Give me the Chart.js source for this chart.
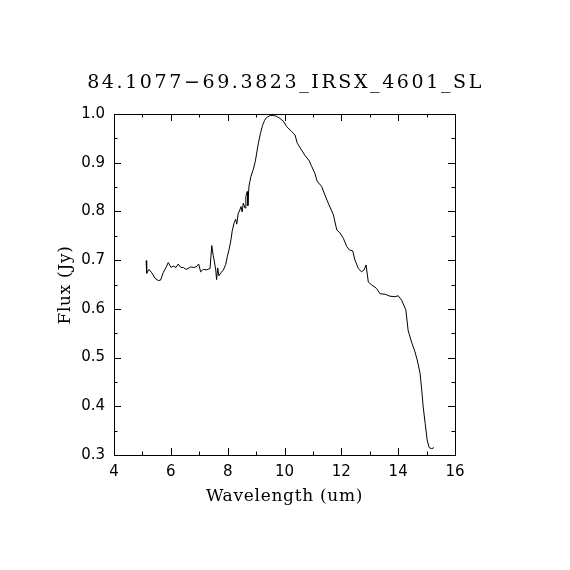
<!DOCTYPE html>
<html>
<head>
<meta charset="utf-8">
<script src="https://cdn.jsdelivr.net/npm/chart.js@4/dist/chart.umd.min.js"></script>
<style>
  html, body { margin: 0; padding: 0; background: #fff; }
  canvas { display: block; }
</style>
</head>
<body>
<canvas id="grafico" width="570" height="570"></canvas>
<script>
// dados (comprimento de onda em um, fluxo em Jy)
const titulo = '84.1077\u221269.3823_IRSX_4601_SL';
const wavelength = [
  5.13, 5.15, 5.23, 5.33, 5.44, 5.56, 5.64, 5.73, 5.83, 5.91,
  6.01, 6.09, 6.18, 6.26, 6.35, 6.44, 6.53, 6.61, 6.70, 6.79,
  6.89, 6.98, 7.05, 7.14, 7.26, 7.38, 7.44, 7.49, 7.53, 7.58,
  7.61, 7.65, 7.69, 7.76, 7.85, 7.93, 7.99, 8.05, 8.12, 8.16,
  8.23, 8.28, 8.32, 8.37, 8.43, 8.47, 8.51, 8.55, 8.61, 8.64,
  8.69, 8.71, 8.75, 8.82, 8.90, 8.97, 9.08, 9.16, 9.23, 9.30,
  9.37, 9.50, 9.61, 9.73, 9.84, 9.96, 10.08, 10.25, 10.37, 10.45,
  10.60, 10.72, 10.87, 10.96, 11.07, 11.15, 11.31, 11.42, 11.54, 11.72,
  11.84, 11.95, 12.07, 12.19, 12.28, 12.40, 12.48, 12.60, 12.71, 12.80,
  12.87, 12.95, 13.07, 13.24, 13.36, 13.54, 13.71, 13.89, 14.00, 14.12,
  14.27, 14.35, 14.47, 14.59, 14.67, 14.77, 14.83, 14.88, 14.95, 15.02,
  15.09, 15.18, 15.26
];
const flux = [
  0.699, 0.673, 0.681, 0.674, 0.663, 0.658, 0.659, 0.674, 0.685, 0.695,
  0.685, 0.688, 0.685, 0.692, 0.685, 0.685, 0.681, 0.683, 0.686, 0.685,
  0.686, 0.692, 0.676, 0.681, 0.680, 0.683, 0.730, 0.710, 0.698, 0.680,
  0.660, 0.684, 0.668, 0.674, 0.680, 0.691, 0.708, 0.722, 0.743, 0.760,
  0.777, 0.784, 0.774, 0.796, 0.803, 0.810, 0.799, 0.817, 0.807, 0.831,
  0.841, 0.812, 0.852, 0.872, 0.886, 0.902, 0.940, 0.962, 0.977, 0.987,
  0.993, 0.997, 0.997, 0.995, 0.991, 0.985, 0.974, 0.964, 0.957, 0.940,
  0.926, 0.915, 0.904, 0.892, 0.878, 0.862, 0.851, 0.834, 0.817, 0.793,
  0.762, 0.756, 0.745, 0.728, 0.721, 0.719, 0.700, 0.683, 0.676, 0.680,
  0.690, 0.655, 0.649, 0.642, 0.631, 0.630, 0.626, 0.625, 0.627, 0.618,
  0.598, 0.556, 0.532, 0.512, 0.495, 0.468, 0.433, 0.399, 0.365, 0.331,
  0.315, 0.313, 0.315
];
const xTicks = [4, 6, 8, 10, 12, 14, 16];
const xMinorTicks = [5, 7, 9, 11, 13, 15];
const yTicks = [0.3, 0.4, 0.5, 0.6, 0.7, 0.8, 0.9, 1.0];
const yMinorTicks = [0.35, 0.45, 0.55, 0.65, 0.75, 0.85, 0.95];

const fonteSerif = '"DejaVu Serif", "Liberation Serif", serif';
const fonteSans = '"DejaVu Sans", "Liberation Sans", sans-serif';

// moldura com marcas para dentro nos quatro lados, títulos e fundo branco
const molduraPlugin = {
  id: 'moldura',
  beforeDraw(chart) {
    const ctx = chart.ctx;
    ctx.save();
    ctx.fillStyle = '#fff';
    ctx.fillRect(0, 0, chart.width, chart.height);
    ctx.restore();
  },
  afterDraw(chart) {
    const ctx = chart.ctx;
    const a = chart.chartArea;
    const sx = chart.scales.x, sy = chart.scales.y;
    ctx.save();
    ctx.strokeStyle = '#000';
    ctx.lineWidth = 1;
    ctx.strokeRect(a.left + 0.5, a.top + 0.5, a.right - a.left, a.bottom - a.top);

    ctx.beginPath();
    const marcaX = (v, len) => {
      const px = Math.round(sx.getPixelForValue(v)) + 0.5;
      ctx.moveTo(px, a.bottom); ctx.lineTo(px, a.bottom - len);
      ctx.moveTo(px, a.top); ctx.lineTo(px, a.top + len);
    };
    const marcaY = (v, len) => {
      const py = Math.round(sy.getPixelForValue(v)) + 0.5;
      ctx.moveTo(a.left, py); ctx.lineTo(a.left + len, py);
      ctx.moveTo(a.right, py); ctx.lineTo(a.right - len, py);
    };
    xTicks.forEach(v => marcaX(v, 7));
    xMinorTicks.forEach(v => marcaX(v, 3.5));
    yTicks.forEach(v => marcaY(v, 7));
    yMinorTicks.forEach(v => marcaY(v, 3.5));
    ctx.stroke();

    const meioX = (a.left + a.right) / 2;
    ctx.fillStyle = '#000';
    ctx.textAlign = 'center';
    ctx.textBaseline = 'alphabetic';

    // título mais espaçado, como a fonte vetorial do original
    ctx.font = '19px ' + fonteSerif;
    ctx.letterSpacing = '2.6px';
    ctx.fillText(titulo, meioX + 1, 88);

    ctx.font = '17px ' + fonteSerif;
    ctx.letterSpacing = '0.7px';
    ctx.fillText('Wavelength (um)', meioX, 501);

    ctx.translate(70, 285);
    ctx.rotate(-Math.PI / 2);
    ctx.fillText('Flux (Jy)', 0, 0);
    ctx.restore();
  }
};

const ctx = document.getElementById('grafico').getContext('2d');
new Chart(ctx, {
  type: 'line',
  data: {
    datasets: [{
      data: wavelength.map((w, i) => ({ x: w, y: flux[i] })),
      borderColor: '#000',
      borderWidth: 1,
      pointRadius: 0,
      tension: 0,
      fill: false
    }]
  },
  options: {
    responsive: false,
    animation: false,
    devicePixelRatio: 1,
    layout: { padding: { top: 114, right: 115, left: 0, bottom: 0 } },
    plugins: {
      legend: { display: false },
      title: { display: false },
      tooltip: { enabled: false }
    },
    scales: {
      x: {
        type: 'linear',
        min: 4,
        max: 16,
        afterBuildTicks: s => { s.ticks = xTicks.map(v => ({ value: v })); },
        afterFit: s => { s.height = 115; },
        grid: { display: false, drawTicks: false },
        border: { display: false },
        ticks: {
          color: '#000',
          padding: 8,
          maxRotation: 0,
          autoSkip: false,
          font: { family: fonteSans, size: 15 },
          callback: v => String(v)
        }
      },
      y: {
        type: 'linear',
        min: 0.3,
        max: 1.0,
        afterBuildTicks: s => { s.ticks = yTicks.map(v => ({ value: v })); },
        afterFit: s => { s.width = 114; },
        grid: { display: false, drawTicks: false },
        border: { display: false },
        ticks: {
          color: '#000',
          padding: 9,
          autoSkip: false,
          font: { family: fonteSans, size: 15 },
          callback: v => v.toFixed(1)
        }
      }
    }
  },
  plugins: [molduraPlugin]
});
</script>
</body>
</html>
